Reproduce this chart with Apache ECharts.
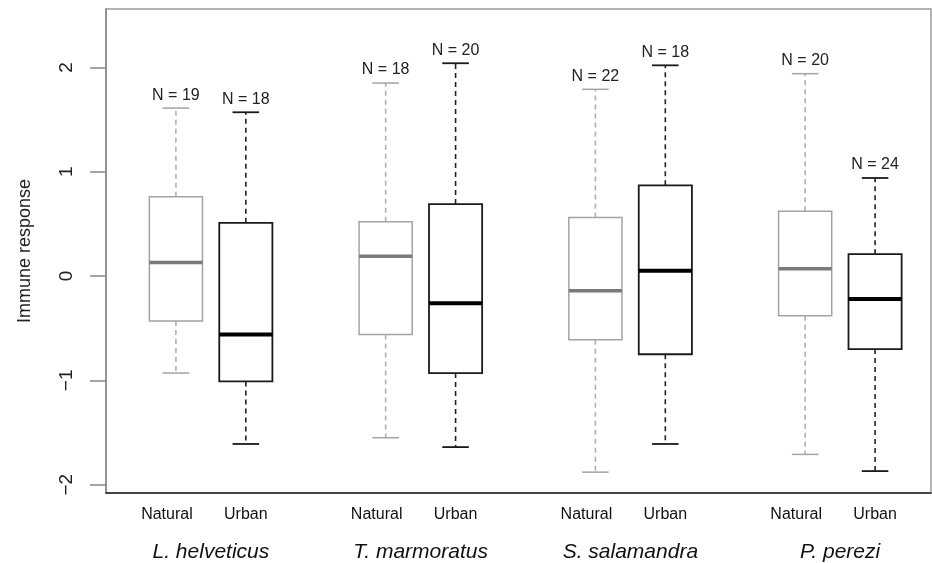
<!DOCTYPE html>
<html>
<head>
<meta charset="utf-8">
<script src="https://cdn.jsdelivr.net/npm/echarts@6/dist/echarts.min.js"></script>
<style>html,body{margin:0;padding:0;background:#fff;}#chart{width:932px;height:563px;}</style>
</head>
<body>
<div id="chart"></div>
<script>
// ---- data ----
const categories = ['Natural','Urban','Natural','Urban','Natural','Urban','Natural','Urban'];
const species = ['L. helveticus','T. marmoratus','S. salamandra','P. perezi'];
const positions = [1, 2, 4, 5, 7, 8, 10, 11];
const speciesPositions = [1.5, 4.5, 7.5, 10.5];
const lowerWhisker = [-0.93, -1.61, -1.55, -1.64, -1.88, -1.61, -1.71, -1.87];
const q1 = [-0.43, -1.01, -0.56, -0.93, -0.61, -0.75, -0.38, -0.70];
const median = [0.13, -0.56, 0.19, -0.26, -0.14, 0.05, 0.07, -0.22];
const q3 = [0.76, 0.51, 0.52, 0.69, 0.56, 0.87, 0.62, 0.21];
const upperWhisker = [1.61, 1.57, 1.85, 2.04, 1.79, 2.02, 1.94, 0.94];
const sampleSize = [19, 18, 18, 20, 22, 18, 20, 24];
const yTicks = [-2, -1, 0, 1, 2];

const styles = {
  Natural: { box: '#a3a3a3', med: '#7a7a7a', whisker: '#b0b0b0', boxW: 1.5, medW: 3.5, whW: 1.6 },
  Urban:   { box: '#1a1a1a', med: '#000000', whisker: '#222222', boxW: 1.8, medW: 4, whW: 1.6 }
};

const boxData = positions.map((p, i) => [p, lowerWhisker[i], q1[i], median[i], q3[i], upperWhisker[i], sampleSize[i], i]);

function renderBox(params, api) {
  const i = api.value(7);
  const st = styles[categories[i]];
  const x = api.value(0);
  const halfW = api.size([0.76, 0])[0] / 2;
  const capHalf = halfW / 2;
  const pLow = api.coord([x, api.value(1)]);
  const pQ1 = api.coord([x, api.value(2)]);
  const pMed = api.coord([x, api.value(3)]);
  const pQ3 = api.coord([x, api.value(4)]);
  const pHigh = api.coord([x, api.value(5)]);
  const cx = pMed[0];
  const dash = [5, 4];
  return {
    type: 'group',
    children: [
      { type: 'line', shape: { x1: cx, y1: pQ3[1], x2: cx, y2: pHigh[1] }, style: { stroke: st.whisker, lineWidth: st.whW, lineDash: dash } },
      { type: 'line', shape: { x1: cx, y1: pQ1[1], x2: cx, y2: pLow[1] }, style: { stroke: st.whisker, lineWidth: st.whW, lineDash: dash } },
      { type: 'line', shape: { x1: cx - capHalf, y1: pHigh[1], x2: cx + capHalf, y2: pHigh[1] }, style: { stroke: st.box, lineWidth: st.boxW } },
      { type: 'line', shape: { x1: cx - capHalf, y1: pLow[1], x2: cx + capHalf, y2: pLow[1] }, style: { stroke: st.box, lineWidth: st.boxW } },
      { type: 'rect', shape: { x: cx - halfW, y: pQ3[1], width: halfW * 2, height: pQ1[1] - pQ3[1] }, style: { fill: '#fff', stroke: st.box, lineWidth: st.boxW } },
      { type: 'line', shape: { x1: cx - halfW, y1: pMed[1], x2: cx + halfW, y2: pMed[1] }, style: { stroke: st.med, lineWidth: st.medW } },
      { type: 'text', x: cx, y: pHigh[1] - 5, style: { text: 'N = ' + api.value(6), fill: '#222', font: '16px "Liberation Sans", Arial, sans-serif', align: 'center', verticalAlign: 'bottom' } }
    ]
  };
}

function renderSpecies(params, api) {
  const p = api.coord([api.value(0), 0]);
  const gridBottom = params.coordSys.y + params.coordSys.height;
  return {
    type: 'text', x: p[0], y: gridBottom + 59,
    style: { text: species[params.dataIndex], fill: '#111', font: 'italic 21px "Liberation Sans", Arial, sans-serif', align: 'center', verticalAlign: 'middle' }
  };
}

const chart = echarts.init(document.getElementById('chart'), null, { renderer: 'canvas' });
chart.setOption({
  animation: false,
  backgroundColor: '#fff',
  grid: { left: 106, right: 1, top: 9, bottom: 70, show: true, borderColor: '#999', borderWidth: 1.5, backgroundColor: 'transparent' },
  xAxis: {
    type: 'value', min: 0, max: 11.8, interval: 1,
    splitLine: { show: false },
    axisLine: { show: true, onZero: false, lineStyle: { color: '#222', width: 1.5 } },
    axisTick: { show: false },
    axisLabel: {
      margin: 14, showMinLabel: true, showMaxLabel: false,
      formatter: v => { const k = positions.indexOf(v); return k < 0 ? '' : (categories[k] === 'Natural' ? '{n|Natural}' : '{u|Urban}'); },
      rich: {
        n: { fontFamily: '"Liberation Sans", Arial, sans-serif', fontSize: 16, color: '#111', padding: [0, 18, 0, 0] },
        u: { fontFamily: '"Liberation Sans", Arial, sans-serif', fontSize: 16, color: '#111' }
      }
    }
  },
  yAxis: {
    type: 'value', min: -2.08, max: 2.56, interval: 1,
    customValues: yTicks,
    splitLine: { show: false },
    axisLine: { show: true, lineStyle: { color: '#888', width: 1.5 } },
    axisTick: { show: true, length: 16, lineStyle: { color: '#888', width: 1.5 }, customValues: yTicks },
    axisLabel: { rotate: 90, margin: 30, fontSize: 19, color: '#222', fontFamily: '"Liberation Sans", Arial, sans-serif', customValues: yTicks,
      formatter: v => (v < 0 ? '\u2212' + Math.abs(v) : String(v)) },
    name: 'Immune response', nameLocation: 'middle', nameGap: 72, nameRotate: 90,
    nameTextStyle: { fontSize: 18, color: '#222', fontFamily: '"Liberation Sans", Arial, sans-serif' }
  },
  series: [
    { type: 'custom', renderItem: renderBox, data: boxData, encode: { x: 0, y: [1, 5] }, clip: false, z: 5 },
    { type: 'custom', renderItem: renderSpecies, data: speciesPositions.map(p => [p]), encode: { x: 0 }, clip: false, z: 5 }
  ]
});
</script>
</body>
</html>
